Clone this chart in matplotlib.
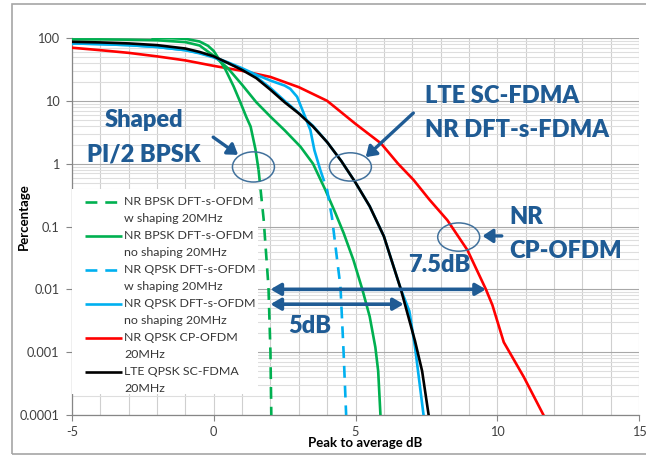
import numpy as np
import matplotlib
matplotlib.use("Agg")
import matplotlib.pyplot as plt
from matplotlib.patches import Ellipse, Rectangle
from matplotlib.ticker import FixedLocator, NullFormatter

plt.rcParams['font.family'] = ['Lato', 'DejaVu Sans']

# ---------------- data ----------------
x_ticks = [-5, 0, 5, 10, 15]
x_tick_labels = ["-5", "0", "5", "10", "15"]
y_ticks = [0.0001, 0.001, 0.01, 0.1, 1, 10, 100]
y_tick_labels = ["0.0001", "0.001", "0.01", "0.1", "1", "10", "100"]

labels = [
    ("NR BPSK DFT-s-OFDM", "w shaping 20MHz"),
    ("NR BPSK DFT-s-OFDM", "no shaping 20MHz"),
    ("NR QPSK DFT-s-OFDM", "w shaping 20MHz"),
    ("NR QPSK DFT-s-OFDM", "no shaping 20MHz"),
    ("NR QPSK CP-OFDM", "20MHz"),
    ("LTE QPSK SC-FDMA", "20MHz"),
]

# NR BPSK DFT-s-OFDM w shaping
x_bpsk_shaped = [-2.2, -1.5, -1.0, -0.5, -0.2, 0.0, 0.2, 0.42, 0.7, 0.95, 1.15, 1.3, 1.47,
                 1.58, 1.76, 1.93, 2.0, 2.03]
y_bpsk_shaped = [100, 99, 97, 88, 75, 62, 45, 31, 17, 9.2, 5.5, 3.9, 1.7,
                 0.8, 0.13, 0.011, 0.001, 0.0001]

# NR BPSK DFT-s-OFDM no shaping
x_bpsk = [-5, -4, -3, -2, -1, -0.5, 0, 0.5, 1, 1.5, 2, 2.5, 3.06, 3.5, 3.94, 4.3, 4.58,
          4.93, 5.24, 5.5, 5.7, 5.8, 5.88]
y_bpsk = [95, 95, 94, 92, 86, 76, 52, 33, 18, 9.5, 5.6, 3.4, 1.86, 1.0, 0.38, 0.16, 0.079,
          0.029, 0.01, 0.0037, 0.0012, 0.0005, 0.0001]

# NR QPSK DFT-s-OFDM w shaping
x_qpsk_shaped = [-5, -4, -3, -2, -1, -0.5, 0, 0.5, 1, 1.5, 2, 2.5, 2.7, 2.94, 3.17, 3.41,
                 3.55, 3.76, 4.0, 4.17, 4.35, 4.47, 4.58, 4.67]
y_qpsk_shaped = [82, 80, 77, 72, 64, 58, 50, 41, 33, 26, 21, 17.5, 15.5, 11.6, 6.4, 3.4,
                 1.64, 0.79, 0.38, 0.14, 0.03, 0.011, 0.001, 0.0001]

# NR QPSK DFT-s-OFDM no shaping
x_qpsk = [-5, -4, -3, -2, -1, -0.5, 0, 0.5, 1, 1.5, 2, 2.5, 3, 3.5, 4, 4.5, 5, 5.5, 6,
          6.6, 6.9, 7.1, 7.4]
y_qpsk = [82, 80, 77, 72, 64, 57, 49, 40, 32, 24, 16, 10, 6.4, 4.0, 2.2, 1.1, 0.5, 0.21,
          0.07, 0.01, 0.0045, 0.0012, 0.0001]

# NR QPSK CP-OFDM
x_cp = [-5, -4, -3, -2, -1, 0, 1, 2, 3, 4, 5, 5.9, 6.5, 7.05, 7.6, 8.24, 8.95, 9.6, 9.83,
        10.23, 10.94, 11.63]
y_cp = [70, 64, 58, 51, 44, 36, 30, 24, 16.5, 10, 4.3, 2.1, 1.0, 0.55, 0.27, 0.126, 0.042,
        0.01, 0.0056, 0.00144, 0.0004, 0.0001]

# LTE QPSK SC-FDMA
x_lte = [-5, -4, -3, -2, -1, -0.5, 0, 0.5, 1, 1.5, 2, 2.5, 3, 3.5, 4, 4.5, 5, 5.5, 6,
         6.6, 7.1, 7.35, 7.58]
y_lte = [87, 85, 82, 77, 68, 60, 51, 40, 31, 23, 15, 9.5, 6.3, 3.9, 2.2, 1.1, 0.5, 0.21,
         0.07, 0.01, 0.0015, 0.0005, 0.0001]

# annotation values
gap_75_x = [2.0, 9.6]
gap_75_y = 0.01
gap_5_x = [2.0, 6.7]
gap_5_y = 0.0058

# ---------------- style ----------------
GREEN = "#00B050"
BLUE = "#00B0F0"
RED = "#FF0000"
BLACK = "#000000"
ANN = "#1F5B94"
ELL = "#41719C"
LW = 1.9
DASH = (0, (4.5, 3))

fig = plt.figure(figsize=(6.46, 4.57), dpi=100)
ax = fig.add_axes([72 / 646, 1 - 415 / 457, 567 / 646, 377 / 457])

# outer frame
fig.patches.append(Rectangle((12 / 646, 1 - 454 / 457), 0.99, (454 - 4) / 457,
                             transform=fig.transFigure, fill=False,
                             edgecolor="#a6a6a6", lw=1.2, zorder=0))

ax.set_xlim(-5, 15)
ax.set_yscale("log")
ax.set_ylim(0.0001, 100)


def split_plot(x, y, color, z):
    x = np.asarray(x, float)
    y = np.asarray(y, float)
    i = int(np.argmax(y < 1.6))
    ax.plot(x[:i + 1], y[:i + 1], color=color, lw=LW, zorder=z, solid_capstyle="butt")
    ax.plot(x[i:], y[i:], color=color, lw=LW, ls=DASH, zorder=z)


ax.plot(x_cp, y_cp, color=RED, lw=LW, zorder=3)
split_plot(x_bpsk_shaped, y_bpsk_shaped, GREEN, 4)
ax.plot(x_bpsk, y_bpsk, color=GREEN, lw=LW, zorder=4)
split_plot(x_qpsk_shaped, y_qpsk_shaped, BLUE, 5)
ax.plot(x_qpsk, y_qpsk, color=BLUE, lw=LW, zorder=5)
ax.plot(x_lte, y_lte, color=BLACK, lw=LW, zorder=6)

# grid
ax.set_xticks(x_ticks, x_tick_labels)
ax.xaxis.set_minor_locator(FixedLocator(np.arange(-5, 16, 1)))
ax.set_yticks(y_ticks, y_tick_labels)
ax.yaxis.set_minor_locator(FixedLocator([m * 10.0 ** e for e in range(-4, 2) for m in range(2, 10)]))
ax.yaxis.set_minor_formatter(NullFormatter())
ax.grid(True, which="minor", axis="y", color="#dedede", lw=0.8, zorder=0)
ax.grid(True, which="major", axis="y", color="#a8a8a8", lw=0.8, zorder=0)
ax.grid(True, which="both", axis="x", color="#cfcfcf", lw=0.8, zorder=0)
ax.set_axisbelow(True)

for s in ["top", "right"]:
    ax.spines[s].set_visible(False)
for s in ["left", "bottom"]:
    ax.spines[s].set_color("#868686")
    ax.spines[s].set_linewidth(0.9)
ax.tick_params(axis="both", which="major", length=4, color="#868686", labelsize=9.2,
               labelcolor="#404040")
ax.tick_params(axis="x", which="major", pad=4)
ax.tick_params(axis="y", which="major", pad=5)
ax.tick_params(axis="both", which="minor", length=0)


def fy(py):
    return (415 - py) / 377


def fx(px):
    return (px - 72) / 566


ax.set_xlabel("Peak to average dB", fontsize=9.5, fontweight="bold")
ax.xaxis.set_label_coords(fx(365), fy(443))
ax.xaxis.label.set_va("center")
ax.set_ylabel("Percentage", fontsize=9.5, fontweight="bold")
ax.yaxis.set_label_coords(fx(24), fy(217))
ax.yaxis.label.set_va("center")

# legend (drawn manually so handles align with the first label line)
ax.add_patch(Rectangle((0, fy(394)), fx(258), fy(189) - fy(394), transform=ax.transAxes,
                       facecolor="white", edgecolor="none", zorder=9))
styles = [(GREEN, DASH), (GREEN, "-"), (BLUE, DASH), (BLUE, "-"), (RED, "-"), (BLACK, "-")]
for k, ((c, ls), (l1, l2)) in enumerate(zip(styles, labels)):
    py = 201.5 + 34 * k
    ax.plot([fx(85), fx(122)], [fy(py), fy(py)], transform=ax.transAxes, color=c, lw=LW,
            ls=ls, zorder=10, clip_on=False, solid_capstyle="butt")
    ax.text(fx(124), fy(py), l1, transform=ax.transAxes, ha="left", va="center",
            fontsize=8.9, color="#363636", zorder=10)
    ax.text(fx(124), fy(py + 17), l2, transform=ax.transAxes, ha="left", va="center",
            fontsize=8.9, color="#363636", zorder=10)

# annotations
tkw = dict(color=ANN, fontsize=17, fontweight="heavy", transform=ax.transAxes, zorder=12)
ax.text(0.127, 0.782, "Shaped", ha="center", va="center", **tkw)
ax.text(0.127, 0.690, "PI/2 BPSK", ha="center", va="center", **tkw)
ax.text(0.622, 0.846, "LTE SC-FDMA", ha="left", va="center", **tkw)
ax.text(0.622, 0.755, "NR DFT-s-FDMA", ha="left", va="center", **tkw)
ax.text(0.772, 0.525, "NR", ha="left", va="center", **tkw)
ax.text(0.772, 0.434, "CP-OFDM", ha="left", va="center", **tkw)
ax.text(0.647, 0.398, "7.5dB", ha="center", va="center", **tkw)
ax.text(0.420, 0.236, "5dB", ha="center", va="center", **tkw)

akw = dict(arrowstyle="-|>,head_length=0.6,head_width=0.4", color=ANN, lw=2.4,
           shrinkA=0, shrinkB=0)
ax.annotate("", xy=(0.293, 0.690), xytext=(0.249, 0.737), xycoords="axes fraction",
            textcoords="axes fraction", arrowprops=akw, zorder=12)
ax.annotate("", xy=(0.518, 0.684), xytext=(0.602, 0.801), xycoords="axes fraction",
            textcoords="axes fraction", arrowprops=akw, zorder=12)
ax.annotate("", xy=(0.724, 0.475), xytext=(0.758, 0.475), xycoords="axes fraction",
            textcoords="axes fraction", arrowprops=akw, zorder=12)

dkw = dict(arrowstyle="<|-|>,head_length=0.6,head_width=0.35", color=ANN, lw=2.6,
           shrinkA=0, shrinkB=0)
ax.annotate("", xy=(gap_75_x[1], gap_75_y), xytext=(gap_75_x[0], gap_75_y),
            arrowprops=dkw, zorder=12)
ax.annotate("", xy=(gap_5_x[1], gap_5_y), xytext=(gap_5_x[0], gap_5_y),
            arrowprops=dkw, zorder=12)

for cx, cy, w, h in [(0.320, 0.658, 0.074, 0.080), (0.491, 0.658, 0.074, 0.075),
                     (0.682, 0.472, 0.074, 0.075)]:
    ax.add_patch(Ellipse((cx, cy), w, h, transform=ax.transAxes, fill=False,
                         edgecolor=ELL, lw=1.1, zorder=11))

fig.savefig("out.png", dpi=100)
